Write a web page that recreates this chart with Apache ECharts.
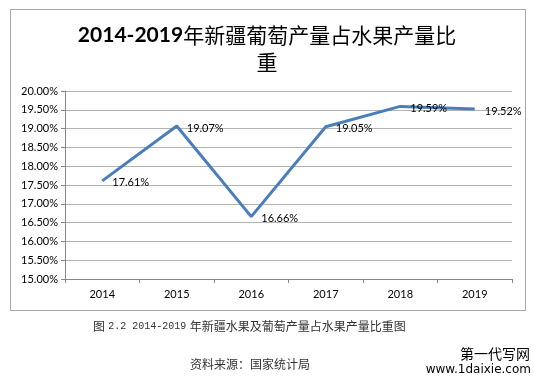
<!DOCTYPE html>
<html>
<head>
<meta charset="utf-8">
<script src="https://cdn.jsdelivr.net/npm/echarts@6/dist/echarts.min.js"></script>
<style>
html,body{margin:0;padding:0;background:#fff;}
#c{width:534px;height:384px;}
</style>
</head>
<body>
<div id="c"></div>
<script>
var categories = ['2014', '2015', '2016', '2017', '2018', '2019'];
var shareValues = [17.61, 19.07, 16.66, 19.05, 19.59, 19.52];
var yTicks = { min: 15, max: 20, interval: 0.5 };
var titleMain = '2014-2019';
var titleRest = '年新疆葡萄产量占水果产量比';
var titleLine2 = '重';
var captionText = '图 2.2 2014-2019 年新疆水果及葡萄产量占水果产量比重图';
var sourceText = '资料来源：国家统计局';
var watermark1 = '第一代写网';
var watermark2 = 'www.1daixie.com';

var chart = echarts.init(document.getElementById('c'), null, {renderer: 'canvas'});
var latin = 'Lato, "Open Sans", sans-serif';
var cjk = '"Noto Sans CJK SC", sans-serif';

chart.setOption({
  backgroundColor: '#fff',
  animation: false,
  title: {
    text: '{a|' + titleMain + '}{b|' + titleRest + '}\n{b|' + titleLine2 + '}',
    left: 'center',
    top: 17,
    textStyle: {
      align: 'center',
      rich: {
        a: { fontFamily: latin, fontWeight: 'bold', fontSize: 21, color: '#000', lineHeight: 27, align: 'center' },
        b: { fontFamily: cjk, fontWeight: 'normal', fontSize: 21, color: '#000', lineHeight: 27, align: 'center' }
      }
    }
  },
  grid: { left: 65, right: 22, top: 91, bottom: 105 },
  xAxis: {
    type: 'category',
    data: categories,
    boundaryGap: true,
    axisLine: { lineStyle: { color: '#868686' } },
    axisTick: { show: true, length: 4, lineStyle: { color: '#868686' } },
    axisLabel: { color: '#000', fontFamily: latin, fontSize: 11, margin: 10 }
  },
  yAxis: {
    type: 'value',
    min: yTicks.min,
    max: yTicks.max,
    interval: yTicks.interval,
    axisLine: { show: true, lineStyle: { color: '#868686' } },
    axisTick: { show: true, length: 4, lineStyle: { color: '#868686' } },
    splitLine: { lineStyle: { color: '#b3b3b3', width: 1 } },
    axisLabel: {
      color: '#000', fontFamily: latin, fontSize: 11, margin: 7,
      formatter: function (v) { return v.toFixed(2) + '%'; }
    }
  },
  series: [{
    type: 'line',
    data: shareValues,
    showSymbol: true,
    symbol: 'circle',
    symbolSize: 0,
    itemStyle: { color: '#4a7ebb' },
    lineStyle: { color: '#4a7ebb', width: 3 },
    label: {
      show: true,
      position: 'right',
      distance: 10,
      offset: [0, 2],
      color: '#000',
      fontFamily: latin,
      fontSize: 11,
      formatter: function (p) { return p.value.toFixed(2) + '%'; }
    }
  }],
  graphic: [
    {
      type: 'rect', silent: true, z: -1,
      shape: { x: 10.5, y: 9.5, width: 515, height: 301 },
      style: { fill: 'none', stroke: '#a6a6a6', lineWidth: 1 }
    },
    {
      type: 'text', left: 93, top: 320,
      style: {
        text: '{c|图} {m|2.2 2014-2019} {c|年新疆水果及葡萄产量占水果产量比重图}',
        rich: {
          c: { fontFamily: cjk, fontSize: 12, fill: '#333' },
          m: { fontFamily: '"Liberation Mono", monospace', fontSize: 10, fill: '#333' }
        }
      }
    },
    {
      type: 'text', left: 190, top: 358,
      style: { text: sourceText, font: '12px "Noto Sans CJK SC", sans-serif', fill: '#333' }
    },
    {
      type: 'text', right: 4, top: 347,
      style: { text: watermark1, font: '14px "Noto Sans CJK SC", sans-serif', fill: '#000' }
    },
    {
      type: 'text', right: 3, top: 364,
      style: { text: watermark2, font: '12px "DejaVu Sans", sans-serif', fill: '#000' }
    }
  ]
});
</script>
</body>
</html>
